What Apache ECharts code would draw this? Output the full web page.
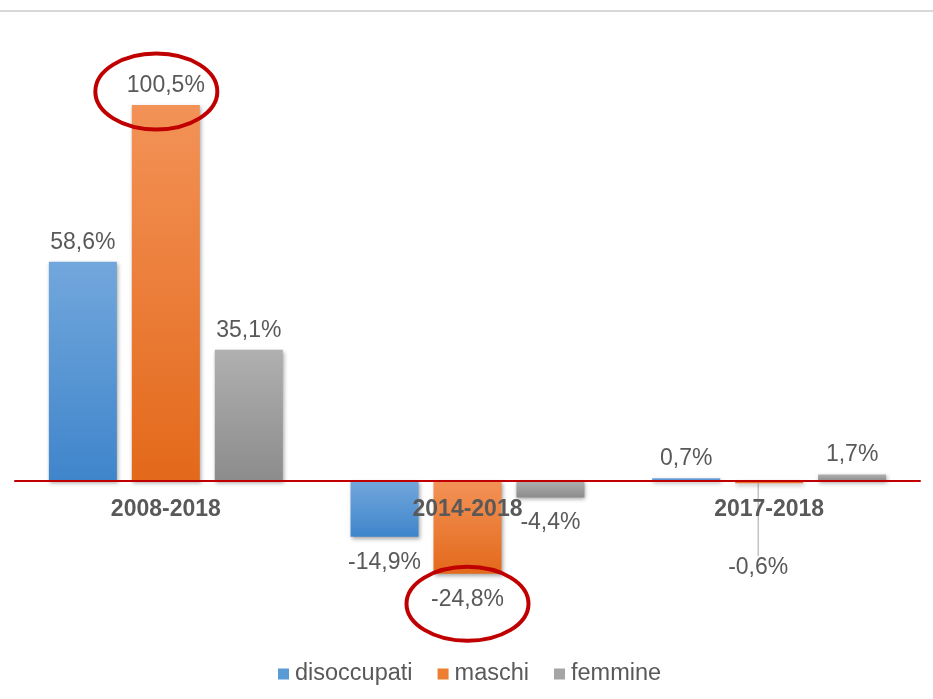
<!DOCTYPE html>
<html>
<head>
<meta charset="utf-8">
<script src="https://cdn.jsdelivr.net/npm/echarts@6/dist/echarts.min.js"></script>
<style>
  html, body { margin: 0; padding: 0; background: #fff; }
  #main { width: 933px; height: 699px; }
</style>
</head>
<body>
<div id="main"></div>
<script>
var categories = ['2008-2018', '2014-2018', '2017-2018'];
var disoccupati = [58.6, -14.9, 0.7];
var maschi = [100.5, -24.8, -0.6];
var femmine = [35.1, -4.4, 1.7];

var yMin = -30, yMax = 110;
var gridTop = 69.5, gridHeight = 523.7;

var chart = echarts.init(document.getElementById('main'));

function grad(top, bottom) {
  return new echarts.graphic.LinearGradient(0, 0, 0, 1, [
    { offset: 0, color: top },
    { offset: 1, color: bottom }
  ]);
}

function fmt(p) {
  return String(p.value).replace('.', ',') + '%';
}

var labelStyle = {
  show: true,
  position: 'outside',
  distance: 8,
  formatter: fmt,
  fontFamily: 'Liberation Sans',
  fontSize: 23,
  lineHeight: 23,
  color: '#595959'
};

function barSeries(name, values, top, bottom) {
  return {
    name: name,
    type: 'bar',
    barWidth: 68,
    barGap: '22%',
    data: values.map(function (v) {
      return v < 0 ? { value: v, label: { distance: 14 } } : { value: v };
    }),
    itemStyle: {
      color: grad(top, bottom),
      shadowColor: 'rgba(0,0,0,0.35)',
      shadowBlur: 4,
      shadowOffsetX: 1,
      shadowOffsetY: 2
    },
    label: labelStyle
  };
}

var s1 = barSeries('disoccupati', disoccupati, '#72a7dc', '#3f85cb');
var s2 = barSeries('maschi', maschi, '#f39257', '#e3691b');
var s3 = barSeries('femmine', femmine, '#b0b0b0', '#8c8c8c');

// etichetta -0,6% spostata in basso con linea guida
s2.data[2].labelLine = { show: true, lineStyle: { color: '#a6a6a6', width: 1 } };
s2.labelLayout = function (p) {
  if (p.dataIndex === 2) return { dx: -11, dy: 59 };
  return {};
};

// asse delle categorie portato sulla linea dello zero
var zeroOffset = -(0 - yMin) * gridHeight / (yMax - yMin);

var option = {
  animation: false,
  grid: { left: 15, width: 905, top: gridTop, height: gridHeight },
  legend: {
    left: 278,
    top: 662,
    padding: 0,
    itemWidth: 11,
    itemHeight: 11,
    itemGap: 25,
    icon: 'rect',
    textStyle: { fontFamily: 'Liberation Sans', fontSize: 23.5, color: '#595959', padding: [0, 0, 0, 1] },
    data: [
      { name: 'disoccupati', itemStyle: { color: '#5b9bd5' } },
      { name: 'maschi', itemStyle: { color: '#ed7d31' } },
      { name: 'femmine', itemStyle: { color: '#a5a5a5' } }
    ]
  },
  xAxis: {
    type: 'category',
    data: categories,
    z: 5,
    offset: zeroOffset,
    axisLine: { onZero: false, lineStyle: { color: '#c00000', width: 2 } },
    axisTick: { show: false },
    axisLabel: {
      margin: 17,
      fontFamily: 'Liberation Sans',
      fontWeight: 'bold',
      fontSize: 23,
      lineHeight: 23,
      color: '#595959'
    }
  },
  yAxis: {
    type: 'value',
    min: yMin,
    max: yMax,
    show: false,
    splitLine: { show: false }
  },
  series: [s1, s2, s3]
};

chart.setOption(option);

// cerchi rossi attorno a 100,5% e -24,8%
var pTop = chart.convertToPixel({ gridIndex: 0 }, [0, maschi[0]]);
var pBot = chart.convertToPixel({ gridIndex: 0 }, [1, maschi[1]]);

chart.setOption({
  graphic: [
    {
      type: 'rect',
      shape: { x: 0, y: 10, width: 933, height: 2 },
      style: { fill: '#d9d9d9' },
      silent: true
    },
    {
      type: 'ellipse',
      shape: { cx: pTop[0] - 9.5, cy: pTop[1] - 13.5, rx: 61, ry: 38 },
      style: { fill: null, stroke: '#c00000', lineWidth: 4 },
      z: 100
    },
    {
      type: 'ellipse',
      shape: { cx: pBot[0], cy: pBot[1] + 30, rx: 61, ry: 37 },
      style: { fill: null, stroke: '#c00000', lineWidth: 4 },
      z: 100
    }
  ]
});
</script>
</body>
</html>
